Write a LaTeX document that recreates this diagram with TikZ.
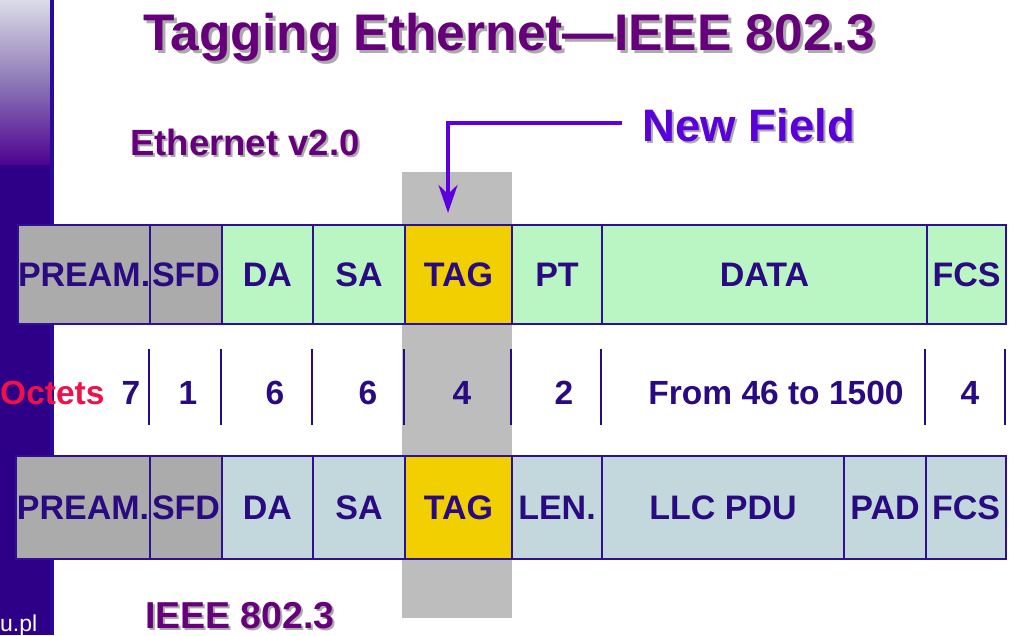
\documentclass[tikz,border=0pt]{standalone}
\usepackage{fontspec}
\setmainfont{Liberation Sans}
\usetikzlibrary{arrows.meta}
\definecolor{bordc}{HTML}{2E1090}
\definecolor{txtc}{HTML}{2A0A80}
\definecolor{titc}{HTML}{66007A}
\definecolor{shadc}{HTML}{ABABAB}
\definecolor{newc}{HTML}{5A00D8}
\definecolor{arrc}{HTML}{5C00E0}
\definecolor{octc}{HTML}{F0104A}
\definecolor{grayc}{HTML}{ABABAB}
\definecolor{greenc}{HTML}{BAF5C4}
\definecolor{yelc}{HTML}{F2CF00}
\definecolor{bluec}{HTML}{C2D8DD}
\definecolor{hlc}{HTML}{BDBDBD}
\definecolor{barc}{HTML}{2E0088}
\definecolor{stripc}{HTML}{2A0A9E}
\newcommand\mycell[7]{\node[cell,fill=#6,minimum width={#3-#2},minimum height={#5-#4}] (#1) at (#2,#4) {#7};}
\begin{document}
\begin{tikzpicture}[x=1pt,y=-1pt,
  cell/.style={draw=bordc,line width=2pt,inner sep=0pt,anchor=north west,
    font=\bfseries\fontsize{34}{36}\selectfont,text=txtc},
  num/.style={font=\bfseries\fontsize{33.5}{36}\selectfont,text=txtc,anchor=base,inner sep=0pt},
  sep/.style={draw=txtc,line width=2pt},
  big/.style={font=\bfseries\fontsize{#1}{#1}\selectfont,anchor=base,inner sep=0pt},
]
\useasboundingbox (0,0) rectangle (1027,635);
\fill[white] (0,0) rectangle (1027,635);
% left bar
\shade[top color={rgb,255:red,220;green,220;blue,232},bottom color={rgb,255:red,78;green,0;blue,144},middle color={rgb,255:red,140;green,120;blue,182}] (0,0) rectangle (53,165);
\fill[barc] (0,165) rectangle (53,635);
\fill[stripc] (50,0) rectangle (54,635);
\node[font=\fontsize{23}{24}\selectfont,text=white,anchor=base west,inner sep=0pt] (url) at (0,631) {u.pl};
% highlight column
\fill[hlc] (402,172) rectangle (512,618);
% titles
\node[big=51.5,text=shadc] (titsh) at (512,53) {Tagging Ethernet—IEEE 802.3};
\node[big=51.5,text=titc] (tit) at (509,50) {Tagging Ethernet—IEEE 802.3};
\node[big=36.5,text=shadc] (ethsh) at (247,157) {Ethernet v2.0};
\node[big=36.5,text=titc] (eth) at (245,155) {Ethernet v2.0};
\node[big=45.5,text=shadc] (nfsh) at (751,143) {New Field};
\node[big=45.5,text=newc] (nf) at (749,141) {New Field};
\node[big=37.5,text=shadc] (ieeesh) at (242,630) {IEEE 802.3};
\node[big=37.5,text=titc] (ieee) at (240,628) {IEEE 802.3};
% arrow
\coordinate (arrs) at (622,123);
\coordinate (arre) at (448,213);
\draw[arrc,line width=4pt,line join=miter,-{Stealth[length=28pt,width=19pt,inset=9pt]}] (arrs) -| (arre);
% top row
\mycell{t1}{17}{149}{224}{323}{grayc}{PREAM.}
\mycell{t2}{149}{221}{224}{323}{grayc}{SFD}
\mycell{t3}{221}{312}{224}{323}{greenc}{DA}
\mycell{t4}{312}{404}{224}{323}{greenc}{SA}
\mycell{t5}{404}{511}{224}{323}{yelc}{TAG}
\mycell{t6}{511}{601}{224}{323}{greenc}{PT}
\mycell{t7}{601}{926}{224}{323}{greenc}{DATA}
\mycell{t8}{926}{1005}{224}{323}{greenc}{FCS}
% bottom row
\mycell{b1}{15}{149}{455}{558}{grayc}{PREAM.}
\mycell{b2}{149}{221}{455}{558}{grayc}{SFD}
\mycell{b3}{221}{312}{455}{558}{bluec}{DA}
\mycell{b4}{312}{404}{455}{558}{bluec}{SA}
\mycell{b5}{404}{511}{455}{558}{yelc}{TAG}
\mycell{b6}{511}{601}{455}{558}{bluec}{LEN.}
\mycell{b7}{601}{843}{455}{558}{bluec}{LLC PDU}
\mycell{b8}{843}{925}{455}{558}{bluec}{PAD}
\mycell{b9}{925}{1005}{455}{558}{bluec}{FCS}
% octet separators
\foreach \xx in {149,221,312,404,511,601,925,1005} \draw[sep] (\xx,349) -- (\xx,425);
% octet labels
\node[num,text=octc,anchor=base west] (oct) at (0,404) {Octets};
\node[num] (n1) at (131,404) {7};
\node[num] (n2) at (188,404) {1};
\node[num] (n3) at (275,404) {6};
\node[num] (n4) at (368,404) {6};
\node[num] (n5) at (462,404) {4};
\node[num] (n6) at (564,404) {2};
\node[num] (n7) at (776,404) {From 46 to 1500};
\node[num] (n8) at (970,404) {4};
\end{tikzpicture}
\end{document}
